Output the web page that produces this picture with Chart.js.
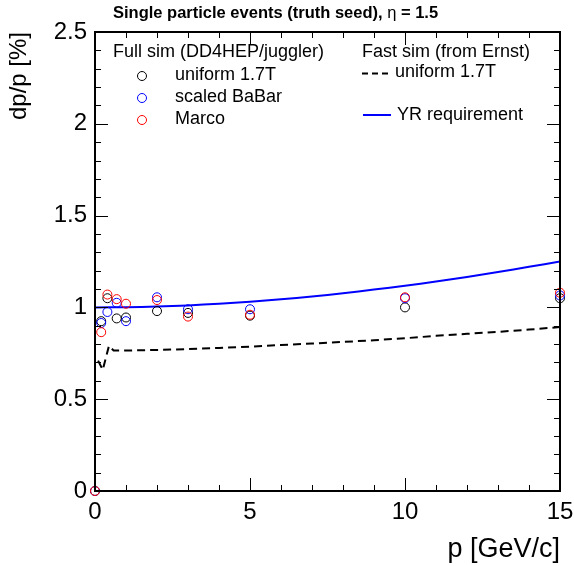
<!DOCTYPE html>
<html>
<head>
<meta charset="utf-8">
<script src="https://cdn.jsdelivr.net/npm/chart.js@4/dist/chart.umd.min.js"></script>
<style>
  body { margin: 0; background: #fff; }
  #box { width: 574px; height: 566px; }
</style>
</head>
<body>
<div id="box"><canvas id="dpp" width="574" height="566"></canvas></div>
<script>
const FONT = "'Liberation Sans', Arial, Helvetica, sans-serif";

// full sim (DD4HEP/juggler), p in GeV/c, dp/p in %
let pFull = [0, 0.2, 0.4, 0.7, 1.0, 2, 3, 5, 10, 15];
let uniformFull = [0, 0.925, 1.05, 0.94, 0.945, 0.98, 0.97, 0.955, 1.0, 1.05];
let babarFull   = [0, 0.915, 0.975, 1.025, 0.925, 1.055, 0.99, 0.99, 1.05, 1.065];
let marcoFull   = [0, 0.865, 1.07, 1.045, 1.02, 1.04, 0.95, 0.96, 1.055, 1.08];

// fast sim (from Ernst), uniform 1.7T
let pFast = [0.1, 0.25, 0.45, 0.6, 1, 2, 3, 4, 5, 6, 7, 8, 9, 10, 11, 12, 13, 14, 15];
let uniformFast = [0.71, 0.66, 0.79, 0.765, 0.765, 0.768, 0.773, 0.779, 0.786, 0.795, 0.803, 0.812, 0.821, 0.832, 0.845, 0.856, 0.867, 0.879, 0.893];

// YR requirement
let pYR = [0, 1, 2, 3, 4, 5, 6, 7, 8, 9, 10, 11, 12, 13, 14, 15];
let yrReq = [1.0, 1.001, 1.005, 1.011, 1.02, 1.031, 1.044, 1.059, 1.077, 1.097, 1.118, 1.141, 1.166, 1.193, 1.221, 1.25];

let colors = {uniform: '#000000', babar: '#0000ff', marco: '#ff0000', yr: '#0000ff'};

// axis ranges and tick spacing (ROOT style, ticks inside the frame)
let xRange = [0, 15];
let yRange = [0, 2.5];
let xMinorStep = 1, xMajorStep = 5;
let yMinorStep = 0.1, yMajorStep = 0.5;

function toXY(xs, ys) {
    return xs.map((x, i) => ({x: x, y: ys[i]}));
}

function markerSet(label, data, color, order) {
    return {
        label: label,
        data: data,
        showLine: false,
        pointStyle: 'circle',
        pointRadius: 4.5,
        pointBorderWidth: 1,
        borderColor: color,
        backgroundColor: 'rgba(0,0,0,0)',
        clip: false,
        order: order
    };
}

function isMajor(v, step) {
    return Math.abs(v / step - Math.round(v / step)) < 1e-6;
}

// frame + inside ticks on all four sides
const frameTicks = {
    id: 'frameTicks',
    afterDraw(chart) {
        const ctx = chart.ctx;
        const a = chart.chartArea;
        const xs = chart.scales.x, ys = chart.scales.y;
        ctx.save();
        ctx.fillStyle = '#000';
        for (let i = 0; i * xMinorStep <= xRange[1] + 1e-9; i++) {
            const v = i * xMinorStep;
            const px = Math.round(xs.getPixelForValue(v));
            const len = isMajor(v, xMajorStep) ? 13 : 6;
            ctx.fillRect(px, a.bottom - len, 1, len);
            ctx.fillRect(px, a.top, 1, len);
        }
        for (let i = 0; i * yMinorStep <= yRange[1] + 1e-9; i++) {
            const v = i * yMinorStep;
            const py = Math.round(ys.getPixelForValue(v));
            const len = isMajor(v, yMajorStep) ? 13 : 6;
            ctx.fillRect(a.left, py, len, 1);
            ctx.fillRect(a.right - len, py, len, 1);
        }
        ctx.strokeStyle = '#000';
        ctx.lineWidth = 2;
        ctx.setLineDash([]);
        ctx.strokeRect(a.left, a.top, a.right - a.left, a.bottom - a.top);
        ctx.restore();
    }
};

// plot title and the two-column legend
const header = {
    id: 'header',
    afterDraw(chart) {
        const ctx = chart.ctx;
        ctx.save();
        ctx.fillStyle = '#000';
        ctx.textBaseline = 'middle';
        ctx.textAlign = 'left';

        let x = 113;
        ctx.font = 'bold 16.5px ' + FONT;
        const t1 = 'Single particle events (truth seed), ';
        ctx.fillText(t1, x, 13);
        x += ctx.measureText(t1).width;
        ctx.font = '16.5px ' + FONT;
        ctx.fillText('\u03b7', x, 13);
        x += ctx.measureText('\u03b7').width;
        ctx.font = 'bold 16.5px ' + FONT;
        ctx.fillText(' = 1.5', x, 13);

        ctx.font = '18px ' + FONT;
        ctx.fillText('Full sim (DD4HEP/juggler)', 113, 52);
        ctx.fillText('Fast sim (from Ernst)', 362, 52);

        const rows = [['uniform 1.7T', colors.uniform, 76], ['scaled BaBar', colors.babar, 98], ['Marco', colors.marco, 120]];
        rows.forEach(r => {
            ctx.strokeStyle = r[1];
            ctx.lineWidth = 1;
            ctx.beginPath();
            ctx.arc(142, r[2], 4.5, 0, 2 * Math.PI);
            ctx.stroke();
            ctx.fillText(r[0], 175, r[2] - 1);
        });

        ctx.strokeStyle = '#000';
        ctx.lineWidth = 2;
        ctx.setLineDash([6, 4]);
        ctx.beginPath();
        ctx.moveTo(362, 73.5); ctx.lineTo(392, 73.5);
        ctx.stroke();
        ctx.setLineDash([]);
        ctx.fillText('uniform 1.7T', 395, 72);

        ctx.strokeStyle = colors.yr;
        ctx.beginPath();
        ctx.moveTo(363, 115); ctx.lineTo(391, 115);
        ctx.stroke();
        ctx.fillText('YR requirement', 397, 115);
        ctx.restore();
    }
};

const dppChart = new Chart(document.getElementById('dpp'), {
    type: 'scatter',
    data: {
        datasets: [
            markerSet('uniform 1.7T', toXY(pFull, uniformFull), colors.uniform, 3),
            markerSet('scaled BaBar', toXY(pFull, babarFull), colors.babar, 2),
            markerSet('Marco', toXY(pFull, marcoFull), colors.marco, 1),
            {
                label: 'fast sim uniform 1.7T',
                data: toXY(pFast, uniformFast),
                showLine: true,
                borderColor: '#000',
                borderWidth: 2,
                borderDash: [8, 5],
                pointRadius: 0,
                tension: 0,
                order: 4
            },
            {
                label: 'YR requirement',
                data: toXY(pYR, yrReq),
                showLine: true,
                borderColor: colors.yr,
                borderWidth: 2,
                pointRadius: 0,
                tension: 0.3,
                order: 5
            }
        ]
    },
    options: {
        responsive: false,
        animation: false,
        layout: {padding: {top: 32, right: 14, left: 0, bottom: 0}},
        scales: {
            x: {
                type: 'linear',
                position: 'bottom',
                min: xRange[0],
                max: xRange[1],
                grid: {display: false, drawTicks: false},
                border: {display: false},
                ticks: {
                    stepSize: xMajorStep,
                    color: '#000',
                    font: {family: FONT, size: 24},
                    padding: 7,
                    maxRotation: 0
                },
                title: {
                    display: true,
                    text: 'p [GeV/c]',
                    align: 'end',
                    color: '#000',
                    font: {family: FONT, size: 27},
                    padding: {top: 0, bottom: 0}
                },
                afterFit(s) { s.height = 75; s.paddingLeft = 0; s.paddingRight = 0; }
            },
            y: {
                type: 'linear',
                min: yRange[0],
                max: yRange[1],
                grid: {display: false, drawTicks: false},
                border: {display: false},
                ticks: {
                    stepSize: yMajorStep,
                    color: '#000',
                    font: {family: FONT, size: 24},
                    padding: 8,
                    callback: v => String(v)
                },
                title: {
                    display: true,
                    text: 'dp/p [%]',
                    align: 'end',
                    color: '#000',
                    font: {family: FONT, size: 24},
                    padding: {top: 5, bottom: 0}
                },
                afterFit(s) { s.width = 95; s.paddingTop = 0; s.paddingBottom = 0; }
            }
        },
        plugins: {
            legend: {display: false},
            tooltip: {enabled: false},
            title: {display: false}
        }
    },
    plugins: [frameTicks, header]
});
</script>
</body>
</html>
